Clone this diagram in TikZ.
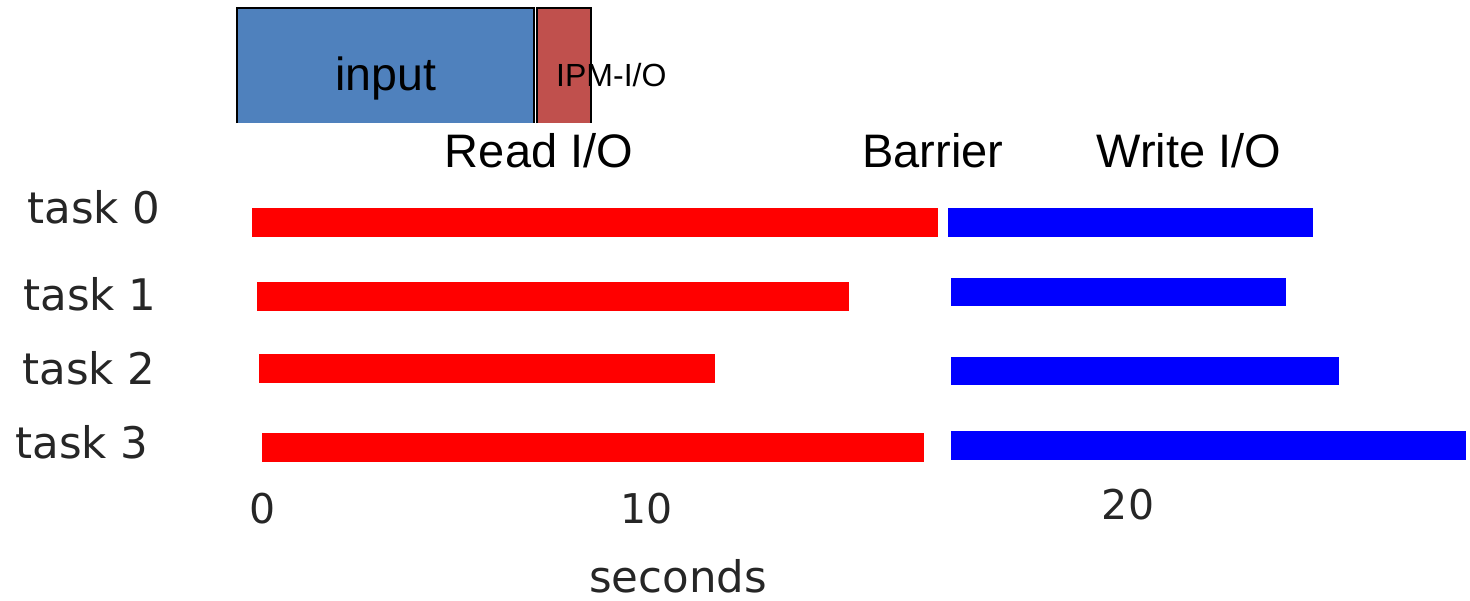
\documentclass[tikz,border=0pt]{standalone}
\usepackage{fontspec}
\newfontfamily\arialf{Liberation Sans}
\newfontfamily\dejavuf{DejaVu Sans}
\definecolor{inblue}{HTML}{4F81BD}
\definecolor{ipmred}{HTML}{C0504D}
\definecolor{readred}{HTML}{FF0000}
\definecolor{writeblue}{HTML}{0000FF}
\tikzset{
  readbar/.style={fill=readred},
  writebar/.style={fill=writeblue},
  boxedge/.style={draw=black,line width=1.8pt},
  headlbl/.style={anchor=base,inner sep=0pt,font=\arialf\fontsize{47}{50}\selectfont},
  tasklbl/.style={anchor=base,inner sep=0pt,font=\dejavuf\fontsize{43.5}{46}\selectfont,text=black!85},
  ticklbl/.style={anchor=base,inner sep=0pt,font=\dejavuf\fontsize{41}{44}\selectfont,text=black!85},
}
\begin{document}
\begin{tikzpicture}[x=1pt,y=-1pt]
\useasboundingbox (0,0) rectangle (1470,600);
% top boxes
\fill[inblue] (237,8) rectangle (534,123);
\draw[boxedge] (237,123) -- (237,8) -- (534,8) -- (534,123);
\fill[ipmred] (537,8) rectangle (591,123);
\draw[boxedge] (537,123) -- (537,8) -- (591,8) -- (591,123);
\node[anchor=base,inner sep=0pt,font=\arialf\fontsize{46.5}{48}\selectfont] (input) at (386,90) {input};
\node[anchor=base west,inner sep=0pt,font=\arialf\fontsize{32}{34}\selectfont] (ipm) at (556,86) {IPM-I/O};
% headings
\node[headlbl] (read) at (539,167) {Read I/O};
\node[headlbl] (barrier) at (933,167) {Barrier};
\node[headlbl] (write) at (1189,167) {Write I/O};
% task labels
\node[tasklbl] (t0) at (94,223) {task 0};
\node[tasklbl] (t1) at (90,310) {task 1};
\node[tasklbl] (t2) at (89,384) {task 2};
\node[tasklbl] (t3) at (82,458) {task 3};
% read bars
\fill[readbar] (252,208) rectangle (938,237);
\fill[readbar] (257,282) rectangle (849,311);
\fill[readbar] (259,354) rectangle (715,383);
\fill[readbar] (262,433) rectangle (924,462);
% write bars
\fill[writebar] (948,208) rectangle (1313,237);
\fill[writebar] (951,278) rectangle (1286,306);
\fill[writebar] (951,357) rectangle (1339,385);
\fill[writebar] (951,431) rectangle (1466,460);
% axis labels
\node[ticklbl] (x0) at (263,523) {0};
\node[ticklbl] (x10) at (647,523) {10};
\node[ticklbl] (x20) at (1128,519) {20};
\node[tasklbl] (sec) at (678,592) {seconds};
\end{tikzpicture}
\end{document}
